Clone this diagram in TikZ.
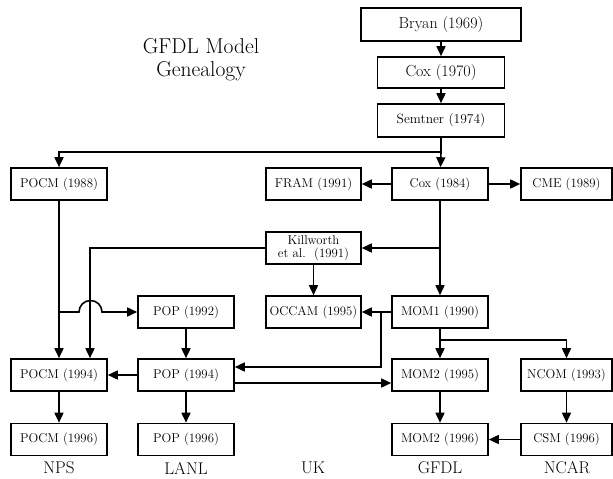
\documentclass[tikz,border=0pt]{standalone}
\usepackage{tikz}
\usetikzlibrary{calc,arrows.meta}

\tikzset{
  model/.style={draw, line width=1.6pt, minimum width=96pt, minimum height=32pt,
    inner sep=1pt, align=center, font=\fontsize{12.8}{13}\selectfont},
  link/.style={line width=1.6pt},
}

\begin{document}
\begin{tikzpicture}[x=1pt,y=-1pt,>={Triangle[length=10pt,width=9pt]}]
  \useasboundingbox (0,0) rectangle (613,479);

  %% Title
  \node[align=center, font=\fontsize{21.5}{23}\selectfont] (title) at (201,60)
  {GFDL Model\\Genealogy};

  %% Early models
  \node[model, minimum width=160pt, minimum height=33pt, font=\fontsize{16}{18}\selectfont]
  (bryan) at (441,24.5) {Bryan (1969)};
  \node[model, minimum width=127pt, minimum height=31pt, font=\fontsize{16}{18}\selectfont]
  (cox70) at (441,72.5) {Cox (1970)};
  \node[model, minimum width=127pt, minimum height=33pt, font=\fontsize{13.5}{15}\selectfont]
  (semtner) at (441,120.5) {Semtner (1974)};

  %% Second row
  \node[model] (pocm88) at (59,184)    {POCM (1988)};
  \node[model, minimum width=95pt] (fram) at (313.5,184) {FRAM (1991)};
  \node[model] (cox84) at (440,184)    {Cox (1984)};
  \node[model, minimum width=91pt] (cme) at (566.5,184) {CME (1989)};

  \node[model, minimum width=95pt] (killworth) at (313.5,248)
  {Killworth\\et al.\ \ (1991)};

  \node[model] (pop92) at (186,312)    {POP (1992)};
  \node[model, minimum width=95pt] (occam) at (313.5,312) {OCCAM (1995)};
  \node[model] (mom1) at (440,312)     {MOM1 (1990)};

  %% Centres
  \node[model] (pocm94) at (59,375)    {POCM (1994)};
  \node[model] (pop94) at (186,375)    {POP (1994)};
  \node[model] (mom295) at (440,375)   {MOM2 (1995)};
  \node[model, minimum width=91pt] (ncom) at (566.5,375) {NCOM (1993)};

  \node[model] (pocm96) at (59,439.5)  {POCM (1996)};
  \node[model] (pop96) at (186,439.5)  {POP (1996)};
  \node[model] (mom296) at (440,439.5) {MOM2 (1996)};
  \node[model, minimum width=91pt] (csm) at (566.5,439.5) {CSM (1996)};

  %% Label columns:
  \foreach \x/\lab in {59/NPS,186/LANL,313/UK,440/GFDL,567/NCAR}
  {
    \node[font=\fontsize{17}{18}\selectfont] (lab\lab) at (\x,468) {\lab};
  }

  %% Junctions
  \coordinate (split) at (441,152);
  \coordinate (kj) at (440,248);
  \coordinate (hop) at (59,312);
  \coordinate (oj) at (381,312);
  \coordinate (mj) at (440,340);

  %% Arrows
  \draw[link,->] (bryan) -- (cox70);
  \draw[link,->] (cox70) -- (semtner);
  \draw[link] (semtner) -- (split);
  \draw[link,->] (split) -| (pocm88);
  \draw[link,->] (split) -- (cox84);
  \draw[link,->] (cox84) -- (fram);
  \draw[link,->] (cox84) -- (cme);
  \draw[link,->] (cox84) -- (mom1);
  \draw[link,->] (kj) -- (killworth);
  \draw[link,->] (killworth.west) -| ([xshift=31pt]pocm94.north);
  \draw[link,->] (killworth) -- (occam);

  \draw[link,->] (pocm88) -- (pocm94);
  \draw[link,->] (hop) -- ($(hop)+(20,0)$)
    arc[start angle=180, end angle=0, radius=11.5pt] -- (pop92);

  \draw[link,->] (pop92) -- (pop94);
  \draw[link,->] (pop94) -- (pocm94);
  \draw[link,->] (pop94) -- (pop96);
  \draw[link,->] (pocm94) -- (pocm96);

  \draw[link,->] (mom1) -- (occam);
  \draw[link,->] (oj) |- ([yshift=8pt]pop94.east);
  \draw[link,->] ([yshift=-8pt]pop94.east) -- ([yshift=-8pt]mom295.west);

  \draw[link,->] (mom1) -- (mom295);
  \draw[link,->] (mj) -| (ncom);
  \draw[link,->] (mom295) -- (mom296);
  \draw[link,->] (ncom) -- (csm);
  \draw[link,->] (csm) -- (mom296);
\end{tikzpicture}
\end{document}
